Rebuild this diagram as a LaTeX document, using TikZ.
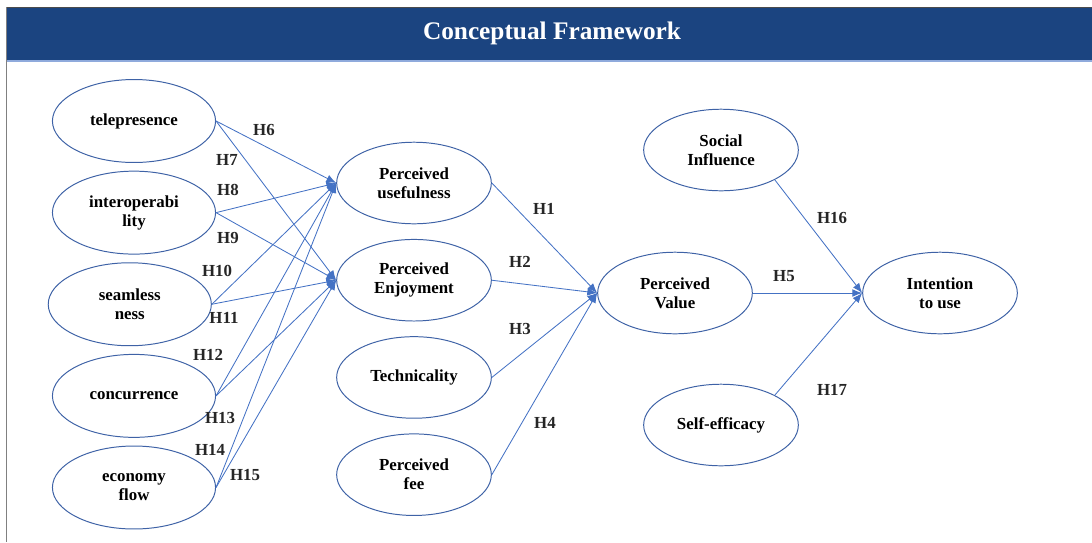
\documentclass[tikz,border=0pt]{standalone}
\usepackage{fontspec}
\setmainfont{Liberation Serif}
\usetikzlibrary{shapes.geometric,arrows.meta}
\definecolor{bandblue}{RGB}{27,68,128}
\definecolor{lineblue}{RGB}{68,114,196}
\definecolor{rimblue}{RGB}{62,98,166}

\begin{document}
\begin{tikzpicture}[x=0.025cm,y=-0.025cm,node distance=2.29cm,
  font=\fontsize{12}{13.5}\selectfont\bfseries,
  construct/.style={draw=rimblue, line width=0.7pt, ellipse, inner sep=0pt, align=center,
    minimum width=116pt, minimum height=59pt},
  midcon/.style={construct, minimum width=110pt, minimum height=58pt},
  hyp/.style={inner sep=0pt, text=black!85},
  link/.style={draw=lineblue, line width=0.6pt, -{Latex[length=7pt,width=5.5pt]}}]
\useasboundingbox (0,0) rectangle (1092,542);
% heading band
\fill[bandblue] (6,7) rectangle (1092,61);
\draw[black!70, line width=0.8pt] (6,7.5) -- (1092,7.5);
\draw[lineblue!60, line width=0.8pt] (6,61) -- (1092,61);
\draw[gray, line width=0.8pt] (6.5,7) -- (6.5,542);
\node (title) [text=white, font=\fontsize{18}{20}\selectfont\bfseries] at (552,33) {Conceptual Framework};

% first column
\node  (tele)[construct] at (134,121) {telepresence};
\node  (inter)[construct] [below of = tele] {interoperabi\\lity};
\node  (seam)[construct] [below of = inter, xshift=-3pt] {seamless\\ness};
\node  (conc)[construct] [below of = seam, xshift=3pt] {concurrence};
\node  (eco)[construct] [below of = conc] {economy\\flow};

% second column
\begin{scope}[node distance=2.43cm]
\node  (pu)[midcon] at (414,183) {Perceived\\usefulness};
\node  (pe)[midcon] [below of = pu] {Perceived\\Enjoyment};
\node  (tech)[midcon] [below of = pe] {Technicality};
\node  (fee)[midcon] [below of = tech] {Perceived\\fee};
\end{scope}

% right part
\node  (pv)[midcon] at (675,293) {Perceived\\Value};
\node  (soc)[midcon] at (721,150) {Social\\Influence};
\node  (self)[midcon] at (721,425) {Self-efficacy};
\node  (itu)[midcon] at (940,293) {Intention\\to use};

\path[every edge/.append style={link}]
    (tele.east)edge(pu.west)
    (tele.east)edge(pe.west)
    (inter.east)edge(pu.west)
    (inter.east)edge(pe.west)
    (seam.east)edge(pu.west)
    (seam.east)edge(pe.west)
    (conc.east)edge(pu.west)
    (conc.east)edge(pe.west)
    (eco.east)edge(pu.west)
    (eco.east)edge(pe.west)
    (pu.east)edge(pv.west)
    (pe.east)edge(pv.west)
    (tech.east)edge(pv.west)
    (fee.east)edge(pv.west)
    (pv.east)edge(itu.west)
    (soc.-29)edge(itu.west)
    (self.29)edge(itu.west);

% hypothesis labels
\node (h6)[hyp] at (264,130) {H6};
\node (h7)[hyp] at (227,160) {H7};
\node (h8)[hyp] at (228,190) {H8};
\node (h9)[hyp] at (228,238) {H9};
\node (h10)[hyp] at (217,271) {H10};
\node (h11)[hyp] at (224,318) {H11};
\node (h12)[hyp] at (208,355) {H12};
\node (h13)[hyp] at (220,418) {H13};
\node (h14)[hyp] at (210,450) {H14};
\node (h15)[hyp] at (245,475) {H15};
\node (h1)[hyp] at (544,209) {H1};
\node (h2)[hyp] at (520,262) {H2};
\node (h3)[hyp] at (520,329) {H3};
\node (h4)[hyp] at (545,423) {H4};
\node (h5)[hyp] at (784,276) {H5};
\node (h16)[hyp] at (832,218) {H16};
\node (h17)[hyp] at (832,390) {H17};
\end{tikzpicture}
\end{document}
